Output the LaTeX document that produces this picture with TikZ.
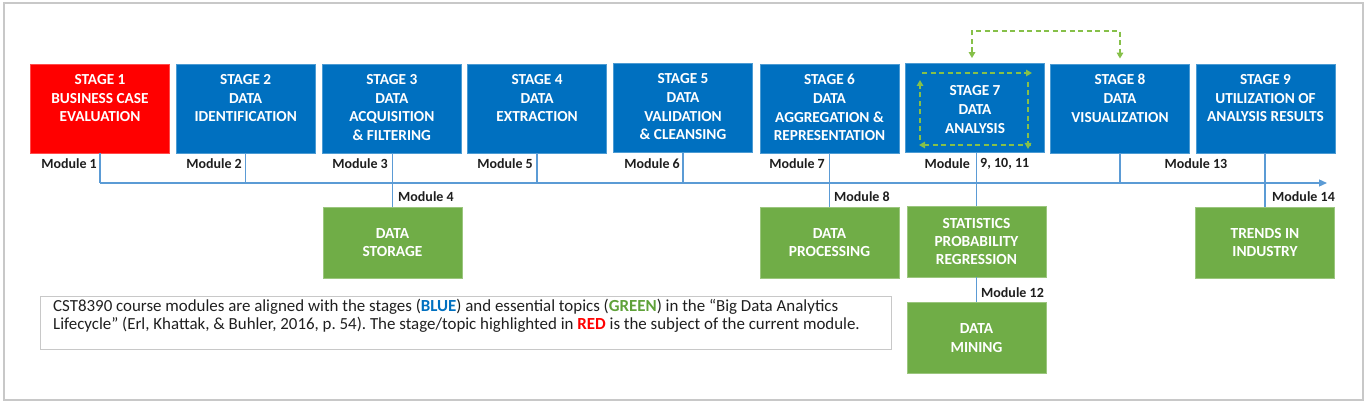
\documentclass[tikz,border=0pt]{standalone}
\usepackage{fontspec}
\setmainfont{Carlito}
\usetikzlibrary{arrows.meta}
\frenchspacing
\definecolor{sred}{HTML}{FF0000}
\definecolor{sblue}{HTML}{0070C0}
\definecolor{sgreen}{HTML}{70AD47}
\definecolor{tline}{HTML}{5B9BD5}
\definecolor{dgreen}{HTML}{86C049}
\definecolor{framegray}{HTML}{C8C8C8}
\definecolor{modtxt}{HTML}{1E1E1E}
\definecolor{capblue}{HTML}{0070C0}
\definecolor{capgreen}{HTML}{5FA139}
\begin{document}
\begin{tikzpicture}[x=1pt,y=-1pt,
  stagebox/.style={fill=sblue, draw=sblue!70!white, line width=0.8pt, minimum width=139pt, minimum height=89pt, inner sep=0pt},
  redbox/.style={stagebox, fill=sred, draw=sred!70!white},
  stagetext/.style={text=white, font=\fontsize{15.3}{18.7}\selectfont\bfseries, align=center, anchor=north, inner sep=0pt},
  topicbox/.style={fill=sgreen, draw=sgreen!70!white, line width=0.8pt, minimum width=139pt, minimum height=71pt, inner sep=0pt, text=white, font=\fontsize{15.4}{18.3}\selectfont\bfseries, align=center},
  modlabel/.style={font=\fontsize{14}{16}\selectfont\bfseries, text=modtxt, inner sep=0pt},
  tlink/.style={draw=tline, line width=1.3pt},
  loopdash/.style={draw=dgreen, line width=1.5pt, dash pattern=on 5pt off 3.5pt, -{Triangle[length=6pt,width=6.5pt]}},
  captxt/.style={font=\fontsize{16.9}{18}\selectfont\frenchspacing, text=black!88, align=left, anchor=north west, inner sep=0pt}
]
\useasboundingbox (0,0) rectangle (1369,406);
\draw[framegray, line width=1.5pt] (4,3) rectangle (1363,400);

% stage boxes
\node[redbox]   (s1) at (100,108.5) {};
\node[stagebox] (s2) at (245.7,108.5) {};
\node[stagebox] (s3) at (391.8,108.5) {};
\node[stagebox] (s4) at (537.1,108.5) {};
\node[stagebox] (s5) at (683,108) {};
\node[stagebox] (s6) at (829.5,108.5) {};
\node[stagebox] (s7) at (975,108) {};
\node[stagebox] (s8) at (1120,108.5) {};
\node[stagebox] (s9) at (1265.5,108.5) {};

\node[stagetext] (s1t) at ([yshift=-10.5pt]s1.north) {STAGE 1\\BUSINESS CASE\\EVALUATION};
\node[stagetext] (s2t) at ([yshift=-10.5pt]s2.north) {STAGE 2\\DATA\\IDENTIFICATION};
\node[stagetext] (s3t) at ([yshift=-10.5pt]s3.north) {STAGE 3\\DATA\\ACQUISITION\\\& FILTERING};
\node[stagetext] (s4t) at ([yshift=-10.5pt]s4.north) {STAGE 4\\DATA\\EXTRACTION};
\node[stagetext] (s5t) at ([yshift=-10.5pt]s5.north) {STAGE 5\\DATA\\VALIDATION\\\& CLEANSING};
\node[stagetext] (s6t) at ([yshift=-10.5pt]s6.north) {STAGE 6\\DATA\\AGGREGATION \&\\REPRESENTATION};
\node[stagetext] (s7t) at ([yshift=-22.5pt]s7.north) {STAGE 7\\DATA\\ANALYSIS};
\node[stagetext] (s8t) at ([yshift=-10.5pt]s8.north) {STAGE 8\\DATA\\VISUALIZATION};
\node[stagetext] (s9t) at ([yshift=-10.5pt]s9.north) {STAGE 9\\UTILIZATION OF\\ANALYSIS RESULTS};

% topic boxes
\node[topicbox] (g1) at (392.5,242.5) {DATA\\STORAGE};
\node[topicbox] (g2) at (829.5,242.5) {DATA\\PROCESSING};
\node[topicbox] (g3) at (976.5,241.5) {STATISTICS\\PROBABILITY\\REGRESSION};
\node[topicbox] (g4) at (976.5,338) {DATA\\MINING};
\node[topicbox] (g5) at (1265,242.5) {TRENDS IN\\INDUSTRY};

% timeline
\coordinate (tl0) at (100,183);
\coordinate (tl1) at (1327,183);
\draw[tlink] (s1.south) -- (s1.south |- tl0);
\draw[tlink, -{Triangle[length=8pt,width=7pt]}] (s1.south |- tl0) -- (tl1);
\draw[tlink] (s2.south) -- (s2.south |- tl0);
\draw[tlink] (s4.south) -- (s4.south |- tl0);
\draw[tlink] (s5.south) -- (s5.south |- tl0);
\draw[tlink] (s8.south) -- (s8.south |- tl0);
\draw[tlink] (s3.south -| g1.north) -- (g1.north);
\draw[tlink] (s6.south) -- (g2.north);
\draw[tlink] (s7.south -| g3.north) -- (g3.north);
\draw[tlink] (s9.south -| g5.north) -- (g5.north);
\draw[tlink] (g3.south) -- (g4.north);

% module labels
\node[modlabel, anchor=east] (m1) at (97,164) {Module 1};
\node[modlabel, anchor=east] (m2) at (242,164) {Module 2};
\node[modlabel, anchor=east] (m3) at (388,164) {Module 3};
\node[modlabel, anchor=west] (m4) at (398,197) {Module 4};
\node[modlabel, anchor=east] (m5) at (533,164) {Module 5};
\node[modlabel, anchor=east] (m6) at (680,164) {Module 6};
\node[modlabel, anchor=east] (m7) at (825,164) {Module 7};
\node[modlabel, anchor=west] (m8) at (834,197) {Module 8};
\node[modlabel, anchor=east] (m9a) at (970,164) {Module};
\node[modlabel, anchor=west] (m9b) at (980,164) {9, 10, 11};
\node[modlabel, anchor=west] (m12) at (981,293) {Module 12};
\node[modlabel] (m13) at (1196,164) {Module 13};
\node[modlabel, anchor=west] (m14) at (1272,197) {Module 14};

% dashed loop inside stage 7
\coordinate (la) at (920,73);
\coordinate (lb) at (1028,73);
\coordinate (lc) at (1028,145);
\coordinate (ld) at (920,145);
\draw[loopdash] ([xshift=2pt]la) -- ([xshift=4pt]lb);
\draw[loopdash] ([yshift=-9pt]lb) -- ([yshift=-4pt]lc);
\draw[loopdash] ([xshift=3pt]lc) -- ([xshift=-1pt]ld);
\draw[loopdash] ([yshift=5pt]ld) -- ([yshift=-7pt]la);

% dashed feedback between stage 7 and stage 8
\coordinate (topc) at (1046,31);
\draw[loopdash, {Triangle[length=6pt,width=6.5pt]}-{Triangle[length=6pt,width=6.5pt]}]
  ([xshift=-3pt,yshift=5pt]s7.north) -- ([xshift=-3pt]s7.north |- topc) -- (s8.north |- topc) -- ([yshift=5pt]s8.north);

% caption
\node[draw=framegray, line width=1.2pt, minimum width=851pt, minimum height=53pt, anchor=north west, inner sep=0pt] (cap) at (40,296) {};
\node[captxt] (capt) at (53,299) {CST8390 course modules are aligned with the stages ({\bfseries\color{capblue}BLUE}) and essential topics ({\bfseries\color{capgreen}GREEN}) in the “Big Data Analytics\\Lifecycle” (Erl, Khattak, \& Buhler, 2016, p. 54). The stage/topic highlighted in {\bfseries\color{sred}RED} is the subject of the current module.};
\end{tikzpicture}
\end{document}
